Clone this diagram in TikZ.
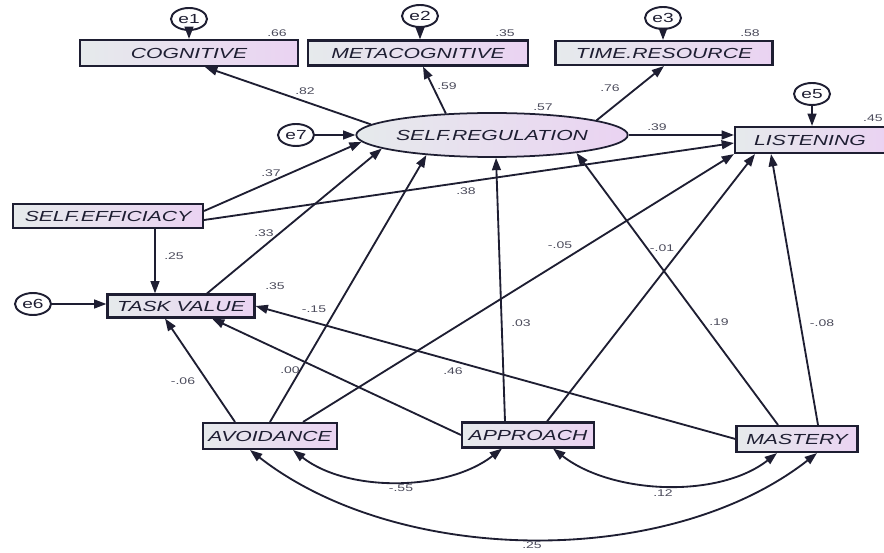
\documentclass[tikz,border=0pt]{standalone}
\usepackage{fontspec}
\newfontfamily\amosfont[FakeStretch=1.45]{Liberation Sans}
\definecolor{amosleft}{HTML}{E6EAEC}
\definecolor{amosright}{HTML}{EAD3F2}
\definecolor{amosink}{HTML}{1E1E32}
\usetikzlibrary{shapes.geometric,arrows.meta,calc}

\begin{document}
\begin{tikzpicture}[
  x=0.02cm, y=0.02cm,
  obs/.style={draw=amosink, line width=1.2pt, rectangle, left color=amosleft, right color=amosright,
    inner sep=1pt, minimum height=0.5cm, text=amosink, font=\amosfont\itshape\fontsize{8.3}{9}\selectfont},
  lat/.style={draw=amosink, line width=1pt, ellipse, left color=amosleft, right color=amosright,
    inner sep=0pt, text=amosink, font=\amosfont\itshape\fontsize{8.3}{9}\selectfont},
  err/.style={draw=amosink, line width=1.1pt, ellipse, fill=white, inner sep=0pt,
    minimum width=0.72cm, minimum height=0.44cm, text=amosink, font=\amosfont\fontsize{7.5}{8}\selectfont},
  arr/.style={-{Triangle[length=7pt,width=5pt]}, line width=1.05pt, amosink},
  cov/.style={{Triangle[length=7pt,width=5pt]}-{Triangle[length=7pt,width=5pt]},
    line width=1.05pt, amosink, out=-38, in=-142, looseness=0.85},
  coef/.style={inner sep=0pt, text=amosink!80, font=\amosfont\fontsize{5.5}{6}\selectfont}
]
  \useasboundingbox (0,0) rectangle (884,-553);

  % Indicators of self regulation
  \node[obs, minimum width=4.36cm, minimum height=0.52cm] (cog) at (189,-53) {COGNITIVE};
  \node[obs, minimum width=4.4cm] (meta) at (418,-53) {METACOGNITIVE};
  \node[obs, minimum width=4.34cm, minimum height=0.48cm] (time) at (664,-53) {TIME.RESOURCE};

  % Latent and outcome
  \node[lat, minimum width=4.4cm, minimum height=0.88cm] (sr) at (492,-135) {SELF.REGULATION};
  \node[obs, minimum width=3cm, minimum height=0.52cm] (lis) at (810,-140) {LISTENING};

  % Motivation
  \node[obs, minimum width=3.8cm, minimum height=0.48cm] (se) at (108,-216) {SELF.EFFICIACY};
  \node[obs, minimum width=2.94cm, minimum height=0.46cm] (tv) at (181,-306) {TASK VALUE};

  % Goal orientations
  \node[obs, minimum width=2.68cm, minimum height=0.52cm] (avo) at (270,-436) {AVOIDANCE};
  \node[obs, minimum width=2.64cm] (app) at (528,-435) {APPROACH};
  \node[obs, minimum width=2.42cm, minimum height=0.52cm] (mas) at (797,-439) {MASTERY};

  % Error terms
  \node[err] (e1) at (189,-19) {e1};
  \node[err] (e2) at (420,-16) {e2};
  \node[err] (e3) at (663,-18) {e3};
  \node[err] (e5) at (812,-94) {e5};
  \node[err] (e6) at (33,-304) {e6};
  \node[err] (e7) at (296,-135) {e7};

  \draw[arr] (e1) -- (cog);
  \draw[arr] (e2) -- (e2 |- meta.north);
  \draw[arr] (e3) -- (e3 |- time.north);
  \draw[arr] (e5) -- (e5 |- lis.north);
  \draw[arr] (e6) -- (e6 -| tv.west);
  \draw[arr] (e7) -- (e7 -| sr.west);

  % Measurement paths
  \draw[arr] (sr.175) -- ($(cog.south)+(16,0)$);
  \draw[arr] (sr.155) -- ($(meta.south)+(5,0)$);
  \draw[arr] (sr.8) -- (time.south);

  % Structural paths
  \draw[arr] (sr.east) -- (sr.east -| lis.west);
  \draw[arr] ($(se.east)+(0,5)$) -- (sr.183);
  \draw[arr] ($(se.east)+(0,-4)$) -- ($(lis.west)+(0,-3)$);
  \draw[arr] ($(se.south)+(47,0)$) -- ($(tv.north)+(-26,0)$);
  \draw[arr] ($(tv.north)+(26,0)$) -- (sr.187);
  \draw[arr] ($(avo.north)+(-35,0)$) -- ($(tv.south)+(-16,0)$);
  \draw[arr] (avo.north) -- (sr.197);
  \draw[arr] ($(avo.north)+(33,0)$) -- (lis.south west);
  \draw[arr] (app.west) -- ($(tv.south)+(31,0)$);
  \draw[arr] ($(app.north)+(-23,0)$) -- (sr.280);
  \draw[arr] ($(app.north)+(19,0)$) -- ($(lis.south)+(-55,0)$);
  \draw[arr] (mas.west) -- (tv.east);
  \draw[arr] ($(mas.north)+(-19,0)$) -- (sr.348);
  \draw[arr] ($(mas.north)+(21,0)$) -- ($(lis.south)+(-39,0)$);

  % Covariances
  \draw[cov] ($(avo.south)+(23,0)$) to ($(app.south)+(-26,0)$);
  \draw[cov] ($(app.south)+(25,0)$) to ($(mas.south)+(-20,0)$);
  \draw[cov] ($(avo.south)+(-20,0)$) to ($(mas.south)+(20,0)$);

  % Squared multiple correlations
  \node[coef] (r2cog) at (277,-33) {.66};
  \node[coef] (r2meta) at (505,-33) {.35};
  \node[coef] (r2time) at (750,-33) {.58};
  \node[coef, anchor=east] (r2lis) at (883,-118) {.45};
  \node[coef] (r2sr) at (543,-107) {.57};
  \node[coef] (r2tv) at (275,-286) {.35};

  % Path coefficients
  \node[coef] (kcog) at (305,-91) {.82};
  \node[coef] (kmeta) at (447,-86) {.59};
  \node[coef] (ktime) at (610,-88) {.76};
  \node[coef] (ksrlis) at (657,-127) {.39};
  \node[coef] (ksesr) at (271,-173) {.37};
  \node[coef] (kselis) at (466,-191) {.38};
  \node[coef] (ktvsr) at (264,-233) {.33};
  \node[coef] (ksetv) at (174,-256) {.25};
  \node[coef] (kavolis) at (560,-245) {-.05};
  \node[coef] (kmassr) at (662,-248) {-.01};
  \node[coef] (kapplis) at (719,-322) {.19};
  \node[coef] (kmaslis) at (822,-323) {-.08};
  \node[coef] (kappsr) at (521,-323) {.03};
  \node[coef] (kmastv) at (314,-309) {-.15};
  \node[coef] (kavosr) at (290,-370) {.00};
  \node[coef] (kapptv) at (453,-371) {.46};
  \node[coef] (kavotv) at (183,-381) {-.06};

  % Correlations
  \node[coef] (cavoapp) at (401,-488) {-.55};
  \node[coef] (cappmas) at (663,-493) {.12};
  \node[coef] (cavomas) at (532,-545) {.25};
\end{tikzpicture}
\end{document}
